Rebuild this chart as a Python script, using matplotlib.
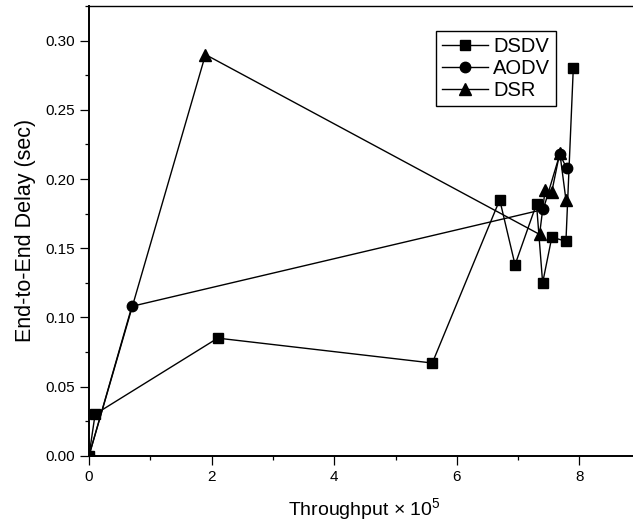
#!/usr/bin/python

import numpy as np
import matplotlib
from matplotlib.figure import Figure
from matplotlib.ticker import MultipleLocator, FormatStrFormatter

matplotlib.rcParams["font.family"] = ["Liberation Sans", "DejaVu Sans"]
matplotlib.rcParams["mathtext.default"] = "regular"

out_file = "out.png"

###############################################################################
# data (throughput x 1e5, delay in sec)

dsdv_x = [0.0, 0.1, 2.1, 5.6, 6.7, 6.95, 7.3, 7.4, 7.55, 7.78, 7.9]
dsdv_y = [0.0, 0.030, 0.085, 0.067, 0.185, 0.138, 0.182, 0.125, 0.158, 0.155, 0.280]

aodv_x = [0.0, 0.7, 7.41, 7.68, 7.79]
aodv_y = [0.0, 0.108, 0.178, 0.218, 0.208]

dsr_x = [0.0, 1.9, 7.35, 7.44, 7.55, 7.68, 7.78]
dsr_y = [0.0, 0.290, 0.160, 0.192, 0.191, 0.219, 0.185]

###############################################################################
# plot

fig = Figure(figsize=(6.33, 5.27), dpi=100)
ax = fig.add_axes([0.1406, 0.1353, 0.8716, 0.853])

ax.plot(dsdv_x, dsdv_y, "k-", marker="s", ms=6.5, lw=1.0, label="DSDV")
ax.plot(aodv_x, aodv_y, "k-", marker="o", ms=7.5, lw=1.0, label="AODV")
ax.plot(dsr_x, dsr_y, "k-", marker="^", ms=8, lw=1.0, label="DSR")

ax.set_xlim(0, 9)
ax.set_ylim(0, 0.325)

ax.xaxis.set_major_locator(MultipleLocator(2))
ax.xaxis.set_minor_locator(MultipleLocator(1))
ax.yaxis.set_major_locator(MultipleLocator(0.05))
ax.yaxis.set_minor_locator(MultipleLocator(0.025))
ax.yaxis.set_major_formatter(FormatStrFormatter("%.2f"))

ax.tick_params(which="major", direction="out", length=6.5, width=0.9, labelsize=11)
ax.tick_params(which="minor", direction="out", length=3.2, width=0.9)
ax.tick_params(top=False, right=False, which="both")

ax.spines["right"].set_visible(False)
ax.spines["left"].set_linewidth(1.4)
ax.spines["bottom"].set_linewidth(1.4)
ax.spines["top"].set_linewidth(1.0)

ax.set_xlabel("Throughput $\\times$ 10$^{5}$", fontsize=14, labelpad=9)
ax.set_ylabel("End-to-End Delay (sec)", fontsize=15.5, labelpad=7)

leg = ax.legend(
	loc="upper left",
	bbox_to_anchor=(0.629, 0.945),
	borderaxespad=0,
	fontsize=14.5,
	frameon=True,
	fancybox=False,
	edgecolor="black",
	framealpha=1,
	handlelength=2.3,
	handletextpad=0.25,
	labelspacing=0.15,
	borderpad=0.3,
	)
leg.get_frame().set_linewidth(1.0)

fig.savefig(out_file, dpi=100)
